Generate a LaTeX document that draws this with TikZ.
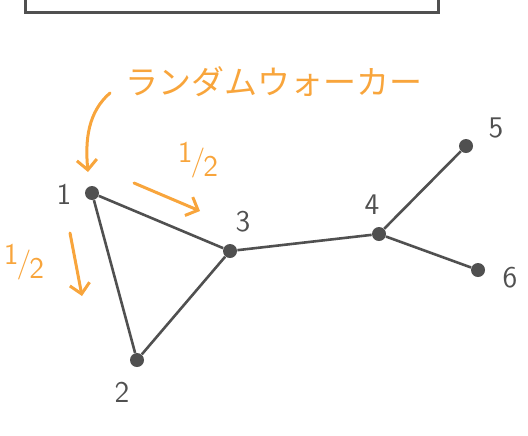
\documentclass[tikz,border=0pt]{standalone}
\usepackage{fontspec}
\newfontfamily\jpfont{Noto Sans CJK JP}
\usepackage{tikz}
\usetikzlibrary{positioning}
\usetikzlibrary{arrows.meta}
\definecolor{walk}{RGB}{248,165,60}
\definecolor{ink}{RGB}{80,80,80}
\newcommand{\halfsign}{\raisebox{4pt}{1}\kern-1pt/\kern-1pt\raisebox{-3pt}{2}}

\begin{document}
\begin{tikzpicture}[>={Straight Barb[length=5pt,width=10pt]},x=0.5pt,y=-0.5pt,
  vtx/.style={circle,fill=ink,inner sep=0pt,minimum size=7pt},
  edge/.style={ink,line width=1.3pt},
  num/.style={ink,font=\sffamily\fontsize{15}{15}\selectfont},
  half/.style={walk,font=\sffamily\fontsize{15}{15}\selectfont},
  move/.style={->,walk,line width=1.5pt,line cap=round}]
  \useasboundingbox (0,0) rectangle (528,435);
  % the box cut off at the top
  \draw[ink,line width=1.5pt] (25,0) -- (25,12) -- (438,12) -- (438,0);
  % vertices
  \node[vtx] (v1) at (92,193) {};
  \node[vtx] (v2) at (137,360) {};
  \node[vtx] (v3) at (230,251) {};
  \node[vtx] (v4) at (379,234) {};
  \node[vtx] (v5) at (466,146) {};
  \node[vtx] (v6) at (478,270) {};
  \node[num] (n1) at (64,194) {1};
  \node[num] (n2) at (122,392) {2};
  \node[num] (n3) at (243,222) {3};
  \node[num] (n4) at (372,205) {4};
  \node[num] (n5) at (496,128) {5};
  \node[num] (n6) at (510,278) {6};
  % edges
  \draw[edge] (v1) -- (v2);
  \draw[edge] (v1) -- (v3);
  \draw[edge] (v2) -- (v3);
  \draw[edge] (v3) -- (v4);
  \draw[edge] (v4) -- (v5);
  \draw[edge] (v4) -- (v6);
  % the walker and its moves
  \node[walk,font=\jpfont\fontsize{16.5}{16.5}\selectfont] (walker) at (274,82) {ランダムウォーカー};
  \coordinate (c0) at (110,93);
  \coordinate (c1) at (88,172);
  \draw[move] (c0) .. controls (88,112) and (85,140) .. (c1);
  \coordinate (r0) at (134,183);
  \coordinate (r1) at (200,211);
  \draw[move] (r0) -- (r1);
  \coordinate (d0) at (70,233);
  \coordinate (d1) at (82,296);
  \draw[move] (d0) -- (d1);
  \node[half] (h1) at (198,160) {\halfsign};
  \node[half] (h2) at (24,262) {\halfsign};
\end{tikzpicture}
\end{document}
